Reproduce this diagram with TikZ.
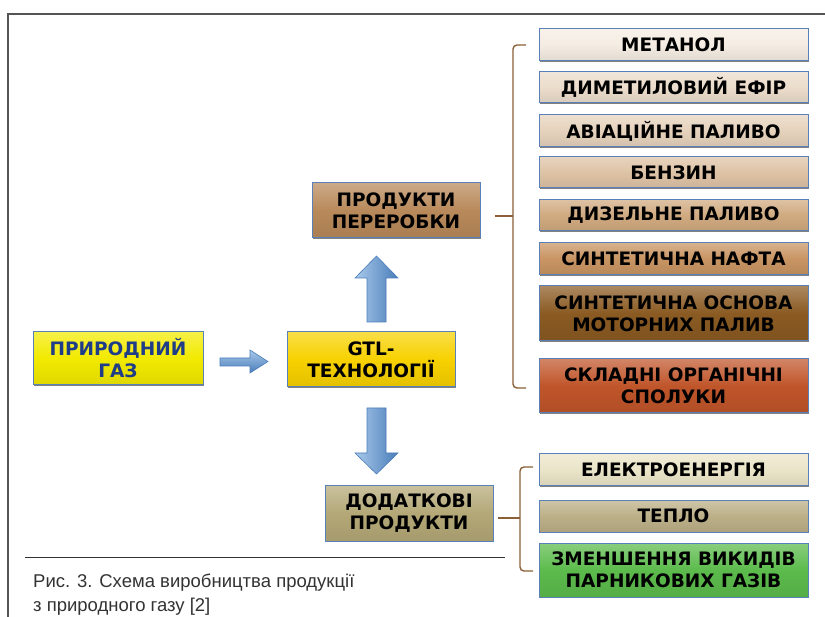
\documentclass[tikz,border=0pt]{standalone}
\usepackage{fontspec}
\setmainfont{Liberation Sans}
\newfontfamily\boxfont{DejaVu Sans}
\usetikzlibrary{shadows}
\definecolor{frame}{HTML}{555555}
\definecolor{boxedge}{HTML}{5A80B8}
\definecolor{bracecol}{HTML}{8B6038}
\definecolor{cGas}{HTML}{F2EA00}
\definecolor{cGtl}{HTML}{F7D100}
\definecolor{cProd}{HTML}{B8895A}
\definecolor{cDod}{HTML}{B4A877}
\definecolor{cA}{HTML}{F5EDE3}
\definecolor{cB}{HTML}{EBDCCB}
\definecolor{cC}{HTML}{E6D2BC}
\definecolor{cD}{HTML}{DEC3A6}
\definecolor{cE}{HTML}{D0AA80}
\definecolor{cF}{HTML}{C89462}
\definecolor{cG}{HTML}{8A5A22}
\definecolor{cH}{HTML}{C0552A}
\definecolor{cI}{HTML}{EAE5C8}
\definecolor{cJ}{HTML}{BCB088}
\definecolor{cK}{HTML}{5CBB4C}
\definecolor{arrLight}{HTML}{A9C9EA}
\definecolor{arrDark}{HTML}{4A7DBA}
\definecolor{gasText}{HTML}{1F3C88}
\definecolor{capText}{HTML}{333333}
\begin{document}
\begin{tikzpicture}[x=1pt,y=-1pt,
  box/.style={draw=boxedge, line width=1pt, top color=#1!72!white, bottom color=#1!92!black, middle color=#1,
    inner sep=0pt, align=center, text=black,
    font=\boxfont\bfseries\fontsize{18.5}{22}\selectfont,
    drop shadow={shadow xshift=1.2pt, shadow yshift=-1.2pt, fill=black!70, opacity=0.7}},
  wide/.style={minimum width=269pt},
  mid/.style={minimum width=168pt, minimum height=55pt},
  barrowv/.style={draw=arrDark, line width=0.6pt, left color=arrLight, right color=arrDark},
  barrowh/.style={draw=arrDark, line width=0.6pt, top color=arrLight, bottom color=arrDark},
  bracket/.style={draw=bracecol, line width=1.4pt, rounded corners=4pt},
  tick/.style={draw=bracecol, line width=1.4pt}]
\useasboundingbox (0,0) rectangle (825,617);
\fill[white] (0,0) rectangle (825,617);
% frame
\draw[frame, line width=2pt] (8,617) -- (8,14) -- (825,14);

% main nodes
\node[box=cGas, minimum width=170pt, minimum height=53pt, text=gasText] (gas) at (118,358.5) {ПРИРОДНИЙ\\ГАЗ};
\node[box=cGtl, mid] (gtl) at (371,359.5) {GTL-\\ТЕХНОЛОГІЇ};
\node[box=cProd, mid] (prod) at (396,210.5) {ПРОДУКТИ\\ПЕРЕРОБКИ};
\node[box=cDod, mid] (dod) at (409,513.5) {ДОДАТКОВІ\\ПРОДУКТИ};

% right column
\node[box=cA, wide, minimum height=32pt] (r1) at (673.5,44.5) {МЕТАНОЛ};
\node[box=cB, wide, minimum height=31pt] (r2) at (673.5,87.5) {ДИМЕТИЛОВИЙ ЕФІР};
\node[box=cC, wide, minimum height=32pt] (r3) at (673.5,131) {АВІАЦІЙНЕ ПАЛИВО};
\node[box=cD, wide, minimum height=31pt] (r4) at (673.5,172.5) {БЕНЗИН};
\node[box=cE, wide, minimum height=31pt] (r5) at (673.5,215.5) {ДИЗЕЛЬНЕ ПАЛИВО};
\node[box=cF, wide, minimum height=32pt] (r6) at (673.5,259) {СИНТЕТИЧНА НАФТА};
\node[box=cG, wide, minimum height=55pt] (r7) at (673.5,313.5) {СИНТЕТИЧНА ОСНОВА\\МОТОРНИХ ПАЛИВ};
\node[box=cH, wide, minimum height=54pt] (r8) at (673.5,386) {СКЛАДНІ ОРГАНІЧНІ\\СПОЛУКИ};
\node[box=cI, wide, minimum height=32pt] (e1) at (673.5,470) {ЕЛЕКТРОЕНЕРГІЯ};
\node[box=cJ, wide, minimum height=32pt] (e2) at (673.5,516) {ТЕПЛО};
\node[box=cK, wide, minimum height=54pt] (e3) at (673.5,570) {ЗМЕНШЕННЯ ВИКИДІВ\\ПАРНИКОВИХ ГАЗІВ};

% block arrows
\path[barrowh] (220,358) -- (250,358) -- (250,350) -- (268,361.5) -- (250,373) -- (250,366) -- (220,366) -- cycle;
\path[barrowv] (367,322) -- (367,278) -- (355,278) -- (376.5,256) -- (398,278) -- (386,278) -- (386,322) -- cycle;
\path[barrowv] (367,408) -- (367,453) -- (355,453) -- (376.5,474) -- (398,453) -- (386,453) -- (386,408) -- cycle;

% bracket for processing products
\coordinate (b1top) at (526,45);
\coordinate (b1bot) at (526,388);
\coordinate (b1mid) at (513,216);
\path[bracket] (b1top) -| (513,300) |- (b1bot);
\path[tick] ([xshift=14pt]prod.east |- b1mid) -- (b1mid);

% bracket for additional products
\coordinate (b2top) at (533,467);
\coordinate (b2bot) at (533,571);
\coordinate (b2mid) at (520,518);
\path[bracket] (b2top) -| (520,520) |- (b2bot);
\path[tick] ([xshift=4pt]dod.east |- b2mid) -- (b2mid);

% caption
\draw[black!80, line width=0.8pt] (25,557) -- (505,557);
\node[anchor=base west, align=left, inner sep=0pt, text=capText, font=\fontsize{18.5}{24}\selectfont] (cap) at (33,611) {Рис. 3. Схема виробництва продукції\\з природного газу [2]};
\end{tikzpicture}
\end{document}
